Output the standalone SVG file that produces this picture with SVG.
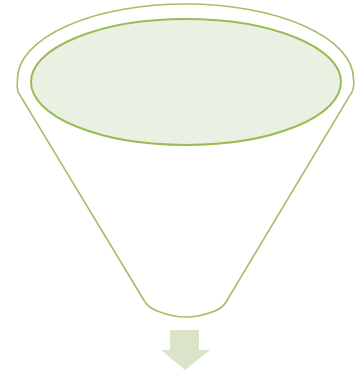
<svg xmlns="http://www.w3.org/2000/svg" width="356" height="372" viewBox="0 0 356 372">
<style>
.ln{fill:none;stroke:#a2c167;stroke-width:1.6}
.in{fill:#ebf1e2;stroke:#9bbb59;stroke-width:2}
.ar{fill:#d9e4c8}
</style>
<rect width="356" height="372" fill="#fff"/>
<g id="funnel">
<path class="ln" d="M18,92 Q16.5,86 17.5,79 A168,75 0 0 1 353.5,79 Q354.5,86 352,92 L226,302 Q222,309 212,312 Q186,322 160,312 Q150,309 145,302 Z"/>
</g>
<g id="top">
<ellipse class="in" cx="186" cy="82" rx="155" ry="63"/>
</g>
<g id="arrow">
<path class="ar" d="M170,330 H199 V350 H210 L185,370 L161,350 H170 Z"/>
</g>
</svg>
